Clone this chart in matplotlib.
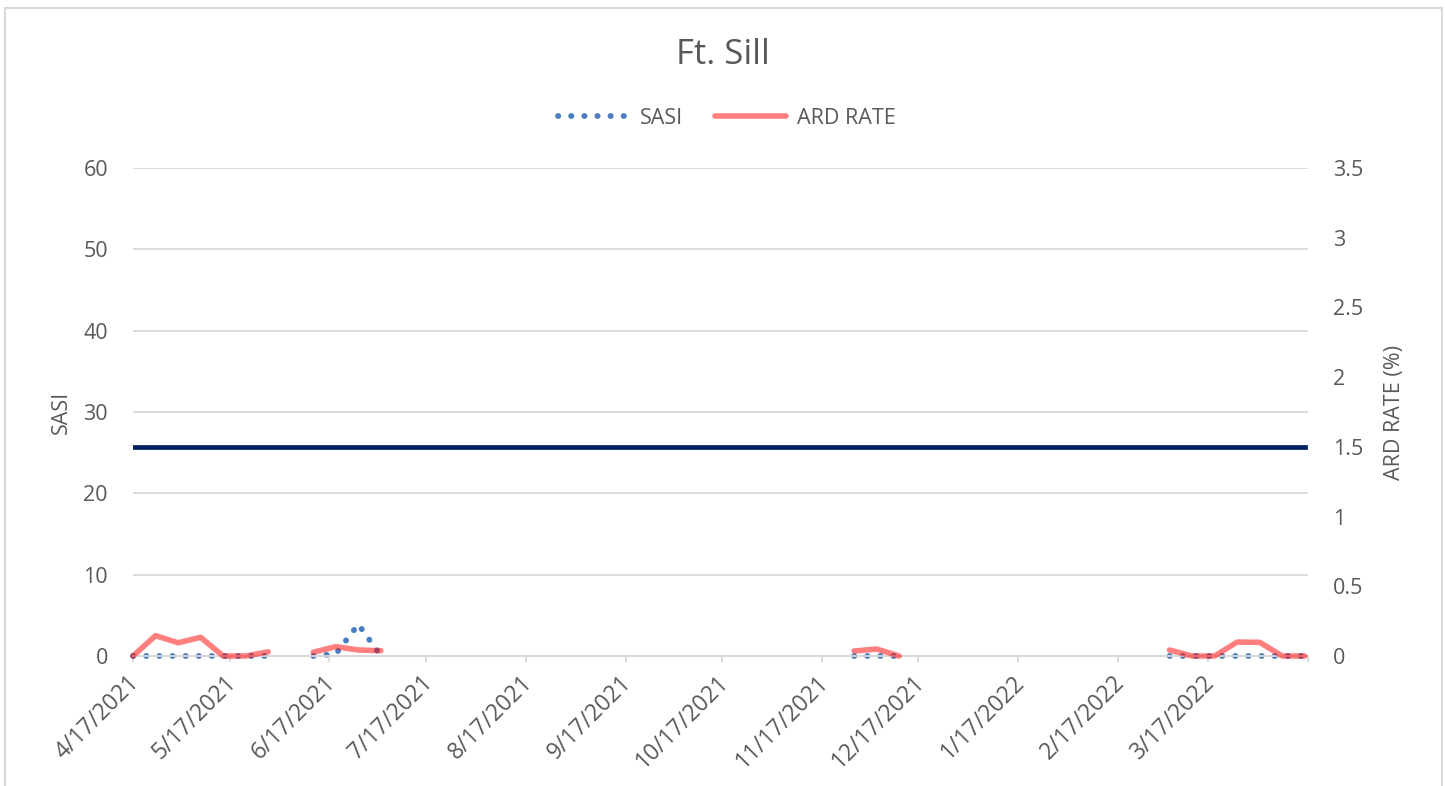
import numpy as np
import pandas as pd
import matplotlib
matplotlib.use("Agg")
import matplotlib.pyplot as plt
from matplotlib.patches import Rectangle
from matplotlib.transforms import ScaledTranslation

plt.rcParams["font.family"] = ["Open Sans", "DejaVu Sans"]

nan = np.nan

# weekly reporting dates
dates = pd.date_range("2021-04-17", periods=53, freq="7D")

# SASI (left axis), gaps are missing weeks
sasi = [0, 0, 0, 0, 0, 0, 0, nan,
        0, 0.25, 3.9, 0,
        nan, nan, nan, nan, nan, nan, nan, nan, nan, nan,
        nan, nan, nan, nan, nan, nan, nan, nan, nan, nan,
        0, 0, 0,
        nan, nan, nan, nan, nan, nan, nan, nan, nan, nan, nan,
        0, 0, 0, 0, 0, 0, 0]

# ARD rate in % (right axis)
ard_rate = [0, 0.146, 0.095, 0.134, 0, 0, 0.03, nan,
            0.027, 0.067, 0.043, 0.038,
            nan, nan, nan, nan, nan, nan, nan, nan, nan, nan,
            nan, nan, nan, nan, nan, nan, nan, nan, nan, nan,
            0.036, 0.05, 0,
            nan, nan, nan, nan, nan, nan, nan, nan, nan, nan, nan,
            0.043, 0, 0, 0.10, 0.098, 0, 0]

ard_threshold = [1.5] * len(dates)

tick_dates = pd.date_range("2021-04-01", "2022-03-01", freq="MS") + pd.Timedelta(days=16)
tick_labels = [f"{d.month}/{d.day}/{d.year}" for d in tick_dates]

text_c = "#595959"
grid_c = "#d9d9d9"
fs = 15.5

fig = plt.figure(figsize=(14.45, 7.86), dpi=100)
ax = fig.add_axes([133 / 1445, 1 - 656 / 786, 1175 / 1445, 488 / 786])
ax2 = ax.twinx()

l_sasi, = ax.plot(dates, sasi, color="#4a7ebf", lw=4.2,
                  linestyle=(0, (0.05, 2.2)), dash_capstyle="round",
                  label="SASI", zorder=3, clip_on=False)
l_ard, = ax2.plot(dates, ard_rate, color="#ff0000", alpha=0.5, lw=4.0,
                  solid_capstyle="round", solid_joinstyle="round",
                  label="ARD RATE", zorder=4, clip_on=False)
ax2.plot(dates, ard_threshold, color="#002060", lw=3.4, zorder=2)

ax.set_ylim(0, 60)
ax.set_yticks(np.arange(0, 61, 10))
ax2.set_ylim(0, 3.5)
ax2.set_yticks(np.arange(0, 3.51, 0.5))
ax2.set_yticklabels(["0", "0.5", "1", "1.5", "2", "2.5", "3", "3.5"])

ax.set_xlim(dates[0], pd.Timestamp("2022-04-17"))
ax.set_xticks(list(tick_dates) + [pd.Timestamp("2022-04-17")])
ax.set_xticklabels(tick_labels + [""])

ax.grid(axis="y", color=grid_c, lw=1.3)
ax.set_axisbelow(True)
for a in (ax, ax2):
    for s in ("top", "left", "right"):
        a.spines[s].set_visible(False)
    a.spines["bottom"].set_color(grid_c)
    a.spines["bottom"].set_linewidth(1.3)

ax.tick_params(axis="y", length=0, pad=18, labelsize=fs, labelcolor=text_c)
ax2.tick_params(axis="y", length=0, pad=18, labelsize=fs, labelcolor=text_c)
ax.tick_params(axis="x", length=4.5, width=1.3, color=grid_c, pad=12,
               labelsize=16.5, labelcolor=text_c)
for lab in ax.get_xticklabels():
    lab.set_rotation(45)
    lab.set_ha("right")
    lab.set_va("center")
    lab.set_rotation_mode("anchor")
    lab.set_transform(lab.get_transform() + ScaledTranslation(0.03, 0, fig.dpi_scale_trans))

ax.set_ylabel("SASI", fontsize=fs, color=text_c, labelpad=8)
ax2.set_ylabel("ARD RATE (%)", fontsize=fs, color=text_c, labelpad=15)

fig.text(723 / 1445, 1 - 55 / 786, "Ft. Sill", ha="center", va="center",
         fontsize=25, color=text_c)

fig.legend(handles=[l_sasi, l_ard], loc="center", ncol=2,
           bbox_to_anchor=(727 / 1445, 1 - 118 / 786), frameon=False,
           fontsize=fs, labelcolor=text_c, handlelength=3.3,
           handletextpad=0.5, columnspacing=1.5)

fig.patches.append(Rectangle((5 / 1445, -0.02), 1437 / 1445, 1.02 - 8 / 786,
                             transform=fig.transFigure, fill=False,
                             edgecolor=grid_c, lw=1.5))

fig.savefig("out.png", dpi=100)
